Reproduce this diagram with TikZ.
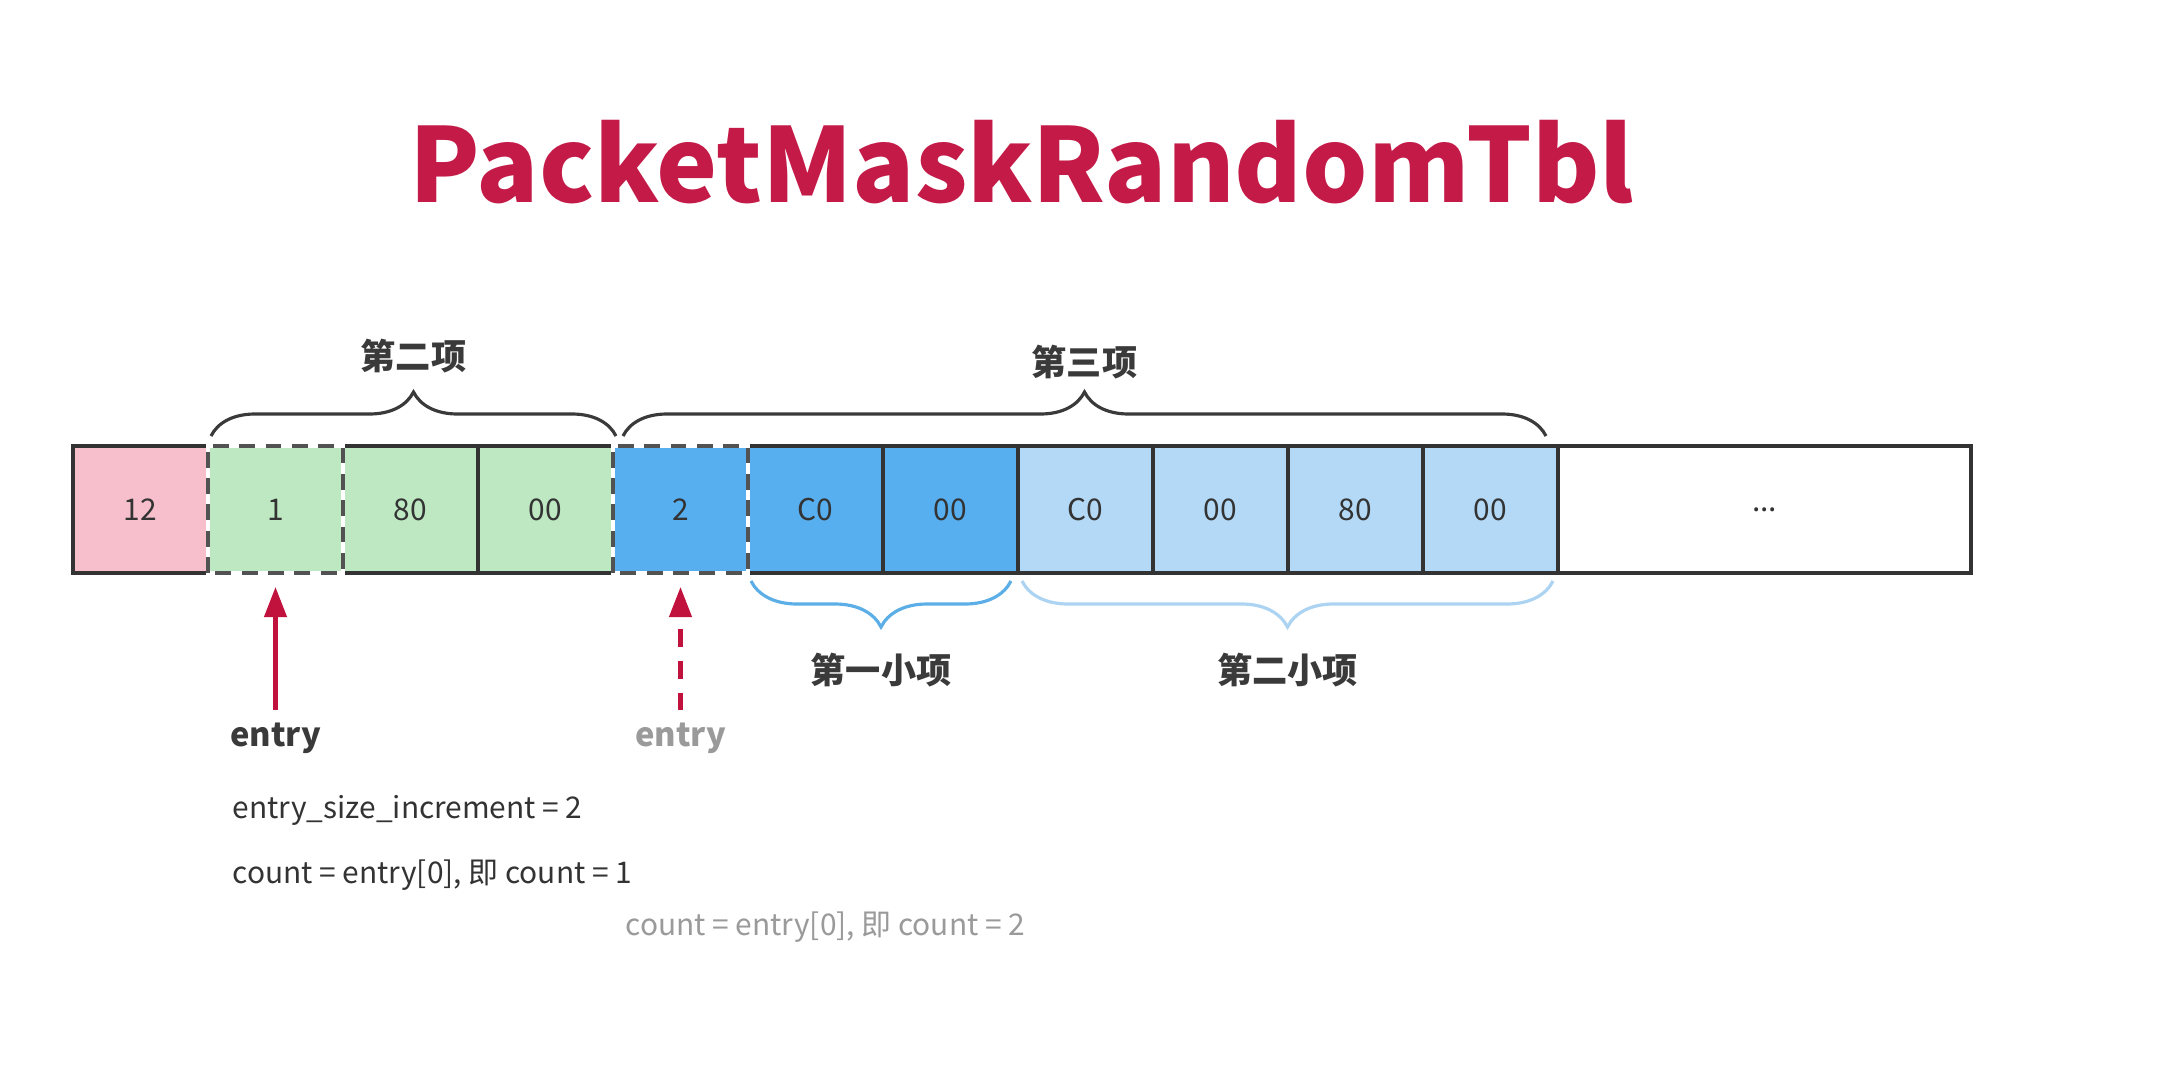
\documentclass[tikz,border=0pt]{standalone}
\usepackage{fontspec}
\setmainfont{Noto Sans CJK SC}
\usetikzlibrary{positioning,decorations.pathreplacing,arrows.meta}
\definecolor{titlered}{HTML}{C41A48}
\definecolor{arrowred}{HTML}{C0123C}
\definecolor{cellpink}{HTML}{F6BFCB}
\definecolor{cellgreen}{HTML}{BDE8C1}
\definecolor{cellblue}{HTML}{57AFF0}
\definecolor{celllight}{HTML}{B3D9F6}
\definecolor{edgegray}{HTML}{333333}
\definecolor{bracedark}{HTML}{3A3A3A}
\definecolor{bracemid}{HTML}{5BAEE6}
\definecolor{bracelight}{HTML}{ACD4F2}
\definecolor{fadetext}{HTML}{9A9A9A}

\begin{document}
\begin{tikzpicture}[>={Triangle[length=0.3cm,width=0.22cm]},
                    cell/.style={minimum width=1.35cm, minimum height=1.27cm, inner sep=0pt, outer sep=0pt,
                                 font=\fontsize{8.5}{10}\selectfont, text=edgegray, line width=1.2pt},
                    solidcell/.style={cell, draw=edgegray},
                    dashedge/.style={draw=edgegray!85, line width=1.2pt, dash pattern=on 4.5pt off 3pt,
                                     preaction={draw=white, solid, line width=1.2pt}},
                    itembrace/.style={decorate, decoration={brace, amplitude=0.44cm}, line width=0.9pt, bracedark},
                    subbrace/.style={decorate, decoration={brace, amplitude=0.46cm, mirror}, line width=0.9pt},
                    itemlabel/.style={inner sep=0pt, font=\fontsize{10}{12}\selectfont\bfseries, text=bracedark},
                    entryarrow/.style={->, arrowred, line width=1.2pt, shorten >=0.14cm},
                    entrylabel/.style={font=\fontsize{9.3}{11}\selectfont\bfseries, text=bracedark},
                    infotext/.style={inner sep=0pt, anchor=west, font=\fontsize{8.5}{10}\selectfont, text=edgegray}]
  \fill[white] (0,0) rectangle (21.64,10.84);
  \useasboundingbox (0,0) rectangle (21.64,10.84);

  \node[anchor=base, font=\fontsize{29.3}{34}\selectfont\bfseries, text=titlered] (title) at (10.22,8.82) {PacketMaskRandomTbl};

  % the table row
  \node[solidcell, fill=cellpink, anchor=west] (c12) at (0.73,5.745) {12};
  \node[cell, fill=cellgreen, right=0pt of c12] (e1) {1};
  \node[solidcell, fill=cellgreen, right=0pt of e1] (g80) {80};
  \node[solidcell, fill=cellgreen, right=0pt of g80] (g00) {00};
  \node[cell, fill=cellblue, right=0pt of g00] (e2) {2};
  \node[solidcell, fill=cellblue, right=0pt of e2] (ac0) {C0};
  \node[solidcell, fill=cellblue, right=0pt of ac0] (a00) {00};
  \node[solidcell, fill=celllight, right=0pt of a00] (bc0) {C0};
  \node[solidcell, fill=celllight, right=0pt of bc0] (b00) {00};
  \node[solidcell, fill=celllight, right=0pt of b00] (b80) {80};
  \node[solidcell, fill=celllight, right=0pt of b80] (b00z) {00};
  \node[solidcell, minimum width=4.13cm, right=0pt of b00z] (rest) {...};
  \draw[dashedge] (e1.south west) rectangle (e1.north east);
  \draw[dashedge] (e2.south west) rectangle (e2.north east);

  % braces
  \draw[itembrace] ([xshift=0.03cm,yshift=0.1cm]e1.north west) --
        node[itemlabel, yshift=0.8cm] (item2) {第二项} ([xshift=0.03cm,yshift=0.1cm]g00.north east);
  \draw[itembrace] ([xshift=0.1cm,yshift=0.1cm]e2.north west) --
        node[itemlabel, yshift=0.74cm] (item3) {第三项} ([xshift=-0.12cm,yshift=0.1cm]b00z.north east);
  \draw[subbrace, bracemid] ([xshift=0.03cm,yshift=-0.08cm]ac0.south west) --
        node[itemlabel, yshift=-0.89cm] (sub1) {第一小项} ([xshift=-0.07cm,yshift=-0.08cm]a00.south east);
  \draw[subbrace, bracelight] ([xshift=0.04cm,yshift=-0.08cm]bc0.south west) --
        node[itemlabel, yshift=-0.89cm] (sub2) {第二小项} ([xshift=-0.05cm,yshift=-0.08cm]b00z.south east);

  % entry pointers
  \node[entrylabel] (entry1) at ([yshift=-1.65cm]e1.south) {entry};
  \node[entrylabel, text=fadetext] (entry2) at ([yshift=-1.65cm]e2.south) {entry};
  \draw[entryarrow] (entry1) -- (e1);
  \draw[entryarrow, dash pattern=on 5pt off 4pt] (entry2) -- (e2);

  \node[infotext] (incr) at (2.32,2.74) {entry\_size\_increment = 2};
  \node[infotext] (count1) at (2.32,2.09) {count = entry[0], 即 count = 1};
  \node[infotext, text=fadetext] (count2) at (6.25,1.57) {count = entry[0], 即 count = 2};
\end{tikzpicture}
\end{document}
